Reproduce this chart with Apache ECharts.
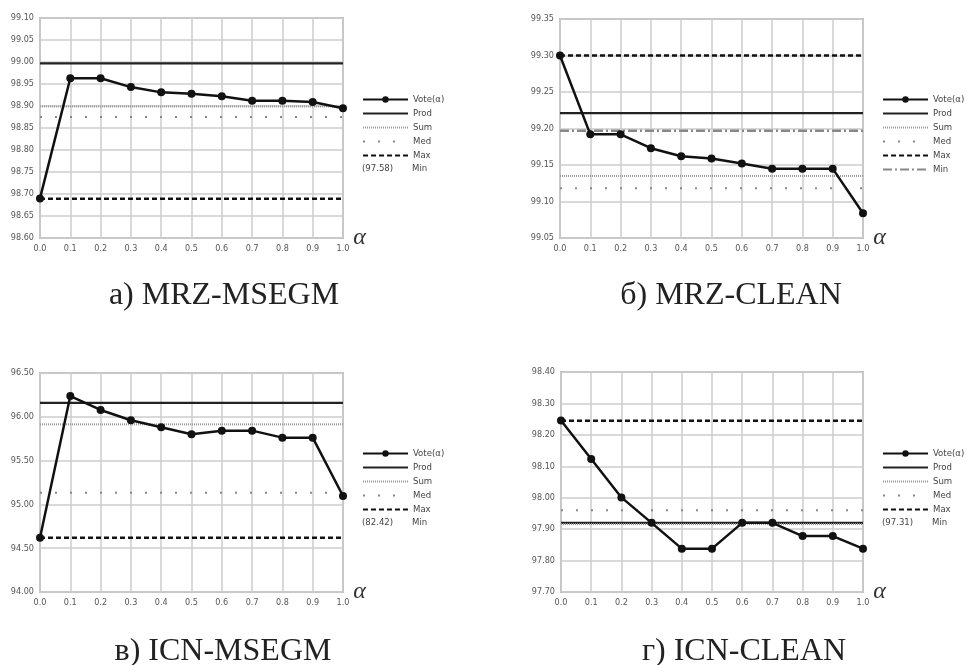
<!DOCTYPE html>
<html><head><meta charset="utf-8">
<script src="https://cdn.jsdelivr.net/npm/echarts@6/dist/echarts.min.js"></script>
<style>html,body{margin:0;padding:0;background:#fff}#c{width:966px;height:665px}</style>
</head><body><div id="c"></div>
<script>
// ---- data ----
const alpha = [0.0,0.1,0.2,0.3,0.4,0.5,0.6,0.7,0.8,0.9,1.0];
const xTicks = ['0.0','0.1','0.2','0.3','0.4','0.5','0.6','0.7','0.8','0.9','1.0'];
const combNames = ['Prod','Sum','Med','Max','Min'];
const voteName = 'Vote(α)';

// a) MRZ-MSEGM
const voteA = [98.690,98.963,98.963,98.943,98.931,98.928,98.922,98.912,98.912,98.909,98.895];
const combA = [98.997,98.899,98.875,98.689,97.58];
const yTicksA = [98.60,98.65,98.70,98.75,98.80,98.85,98.90,98.95,99.00,99.05,99.10];
// б) MRZ-CLEAN
const voteB = [99.300,99.192,99.192,99.173,99.162,99.159,99.152,99.145,99.145,99.145,99.084];
const combB = [99.221,99.135,99.118,99.300,99.197];
const yTicksB = [99.05,99.10,99.15,99.20,99.25,99.30,99.35];
// в) ICN-MSEGM
const voteC = [94.62,96.237,96.078,95.960,95.880,95.800,95.842,95.842,95.762,95.762,95.096];
const combC = [96.158,95.914,95.134,94.620,82.42];
const yTicksC = [94.00,94.50,95.00,95.50,96.00,96.50];
// г) ICN-CLEAN
const voteD = [98.246,98.123,98.001,97.920,97.838,97.838,97.920,97.920,97.878,97.878,97.838];
const combD = [97.920,97.916,97.960,98.245,97.31];
const yTicksD = [97.70,97.80,97.90,98.00,98.10,98.20,98.30,98.40];

const captions = ['а) MRZ-MSEGM','б) MRZ-CLEAN','в) ICN-MSEGM','г) ICN-CLEAN'];

// ---- layout / style ----
const grids = [
  {left:40,top:18,width:303,height:220},
  {left:560,top:19,width:303,height:219},
  {left:40,top:373,width:303,height:219},
  {left:561,top:372,width:302,height:220}
];
const legendPos = [{left:362,top:94},{left:882,top:94},{left:362,top:448},{left:882,top:448}];
const captionPos = [[224,296],[731,296],[223,652],[744,652]];
const legendFont = '"DejaVu Sans Condensed", "Liberation Sans", sans-serif';
const rowH = 14;

const combStyles = {
  Prod:{color:'#222',width:2.2,type:'solid'},
  Sum:{color:'#999',width:2,type:[1,1]},
  Med:{color:'#888',width:2,type:[2,13]},
  Max:{color:'#111',width:2.5,type:[5,3]},
  Min:{color:'#888',width:2.5,type:[9,3,2,3]}
};

const panels = [
  {vote:voteA, comb:combA, ticks:yTicksA},
  {vote:voteB, comb:combB, ticks:yTicksB},
  {vote:voteC, comb:combC, ticks:yTicksC},
  {vote:voteD, comb:combD, ticks:yTicksD}
];

const option = {
  animation:false,
  backgroundColor:'#fff',
  grid:[], xAxis:[], yAxis:[], series:[], legend:[], graphic:[]
};

panels.forEach((p, i) => {
  const ymin = p.ticks[0], ymax = p.ticks[p.ticks.length-1];
  const yint = +(p.ticks[1]-p.ticks[0]).toFixed(4);
  option.grid.push(Object.assign({show:true,borderColor:'#bbb',borderWidth:2,containLabel:false}, grids[i]));
  option.xAxis.push({
    type:'value', gridIndex:i, min:alpha[0], max:alpha[alpha.length-1], interval:0.1,
    axisLine:{show:false}, axisTick:{show:false},
    splitLine:{show:true,lineStyle:{color:'#ccc',width:1.5}},
    axisLabel:{fontSize:9,color:'#555',margin:6,fontFamily:legendFont,
      formatter:(v)=>{const k=alpha.findIndex(a=>Math.abs(a-v)<1e-6);return k>=0?xTicks[k]:'';}},
    name:'α', nameLocation:'end', nameGap:7,
    nameTextStyle:{fontFamily:'Liberation Serif',fontStyle:'italic',fontSize:24,color:'#333',verticalAlign:'middle',padding:[0,0,4,0]}
  });
  option.yAxis.push({
    type:'value', gridIndex:i, min:ymin, max:ymax, interval:yint,
    axisLine:{show:false}, axisTick:{show:false},
    splitLine:{show:true,lineStyle:{color:'#ccc',width:1.5}},
    axisLabel:{fontSize:9,color:'#555',margin:6,fontFamily:legendFont,formatter:(v)=>v.toFixed(2)}
  });
  const legendItems = [{name:voteName}];
  combNames.forEach((n, k) => {
    const v = p.comb[k];
    if (v < ymin || v > ymax) return;
    legendItems.push({name:n, itemStyle:{opacity:0}});
    option.series.push({
      type:'line', name:n, xAxisIndex:i, yAxisIndex:i,
      data:[[alpha[0],v],[alpha[alpha.length-1],v]],
      symbol:'none', lineStyle:Object.assign({}, combStyles[n]),
      itemStyle:{color:combStyles[n].color}, z:2, silent:true
    });
  });
  option.series.push({
    type:'line', name:voteName, xAxisIndex:i, yAxisIndex:i,
    data:alpha.map((a,k)=>[a,p.vote[k]]),
    symbol:'circle', symbolSize:8, showSymbol:true,
    lineStyle:{color:'#111',width:2.5}, itemStyle:{color:'#111'}, z:5
  });
  option.legend.push({
    orient:'vertical', left:legendPos[i].left, top:legendPos[i].top, padding:0,
    itemWidth:45, itemHeight:8, itemGap:3, selectedMode:false,
    textStyle:{fontSize:9.5,color:'#444',fontFamily:legendFont,lineHeight:11,height:11},
    data:legendItems
  });
  // Min entry out of range: shown as value in parentheses
  const minV = p.comb[4];
  if (minV < ymin || minV > ymax) {
    const rowY = legendPos[i].top + 5.5 + 5*rowH;
    option.graphic.push({type:'text',left:legendPos[i].left,top:rowY-6,
      style:{text:'('+minV.toFixed(2)+')',font:'9.5px '+legendFont,fill:'#444',width:45,align:'center'}});
    option.graphic.push({type:'text',left:legendPos[i].left+50,top:rowY-6,
      style:{text:'Min',font:'9.5px '+legendFont,fill:'#444'}});
  }
  option.graphic.push({type:'text',x:captionPos[i][0],y:captionPos[i][1],
    style:{text:captions[i],font:'32px "Liberation Serif"',fill:'#222',align:'center',verticalAlign:'middle'}});
});

const chart = echarts.init(document.getElementById('c'), null, {renderer:'canvas'});
chart.setOption(option);
</script></body></html>
